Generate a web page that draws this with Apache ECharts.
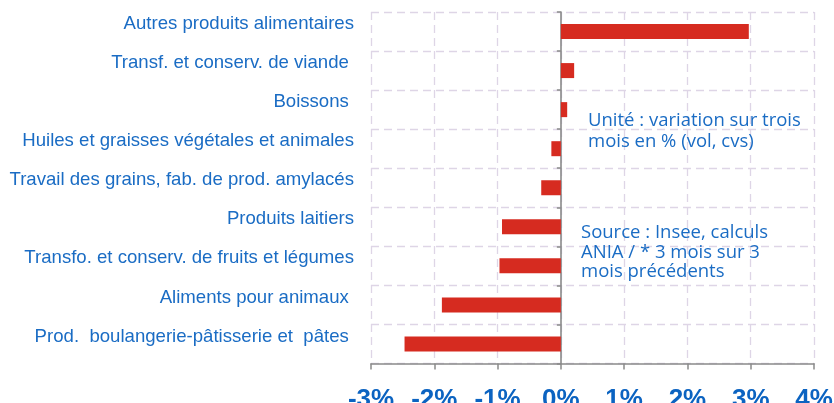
<!DOCTYPE html>
<html>
<head>
<meta charset="utf-8">
<script src="https://cdn.jsdelivr.net/npm/echarts@6/dist/echarts.min.js"></script>
<style>
html,body{margin:0;padding:0;background:#fff;}
#c{width:834px;height:403px;}
</style>
</head>
<body>
<div id="c"></div>
<script>
const categories = [
  'Autres produits alimentaires',
  'Transf. et conserv. de viande ',
  'Boissons ',
  'Huiles et graisses végétales et animales',
  'Travail des grains, fab. de prod. amylacés',
  'Produits laitiers',
  'Transfo. et conserv. de fruits et légumes',
  'Aliments pour animaux ',
  'Prod.  boulangerie-pâtisserie et  pâtes '
];
const values = [2.97, 0.21, 0.10, -0.15, -0.31, -0.93, -0.97, -1.88, -2.47];
const xMin = -3, xMax = 4, xStep = 1;
const noteUnit = 'Unité : variation sur trois\nmois en % (vol, cvs)';
const noteSource = 'Source : Insee, calculs\nANIA / * 3 mois sur 3\nmois précédents';

const chart = echarts.init(document.getElementById('c'), null, {renderer: 'canvas'});
const blue = '#1a6cc4';
const gridColor = '#ded5e6';
const axisGray = '#8a8a8a';

chart.setOption({
  backgroundColor: '#ffffff',
  animation: false,
  grid: {left: 371, right: 20, top: 12, bottom: 39.5, containLabel: false, outerBoundsMode: 'none'},
  xAxis: {
    type: 'value', min: xMin, max: xMax, interval: xStep,
    axisLine: {show: true, lineStyle: {color: axisGray, width: 1.5}},
    axisTick: {show: true, length: 6, lineStyle: {color: axisGray, width: 1.5}},
    axisLabel: {
      formatter: v => v + '%',
      fontFamily: 'Liberation Sans, Arial, sans-serif',
      fontWeight: 'bold', fontSize: 26, color: '#0b63c1', margin: 23
    },
    splitLine: {show: true, lineStyle: {color: gridColor, type: [8, 5], width: 1.3}}
  },
  yAxis: [
    {
      type: 'category', data: categories, inverse: true,
      position: 'left',
      axisLine: {show: false, onZero: false},
      axisTick: {show: false},
      axisLabel: {
        fontFamily: 'Liberation Sans, Arial, sans-serif',
        fontSize: 18.6, color: blue, margin: 17,
        verticalAlign: 'bottom', lineHeight: 15
      },
      splitLine: {show: true, lineStyle: {color: gridColor, type: [8, 5], width: 1.3}}
    },
    {
      type: 'category', data: categories, inverse: true,
      position: 'left',
      axisLine: {show: true, onZero: true, lineStyle: {color: axisGray, width: 1.6}},
      axisTick: {show: true, length: 4, lineStyle: {color: axisGray, width: 1.5}},
      axisLabel: {show: false},
      splitLine: {show: false}
    }
  ],
  series: [{
    type: 'bar', yAxisIndex: 0, data: values, barWidth: 15,
    itemStyle: {color: '#d62b20'}, z: 3
  }],
  graphic: [
    {
      type: 'text', left: 588, top: 110.5, z: 10,
      style: {text: noteUnit, font: '18.5px "Open Sans", sans-serif', fill: blue, lineHeight: 20.8}
    },
    {
      type: 'text', left: 581, top: 223, z: 10,
      style: {text: noteSource, font: '18.5px "Open Sans", sans-serif', fill: blue, lineHeight: 19.5}
    }
  ]
});
</script>
</body>
</html>
